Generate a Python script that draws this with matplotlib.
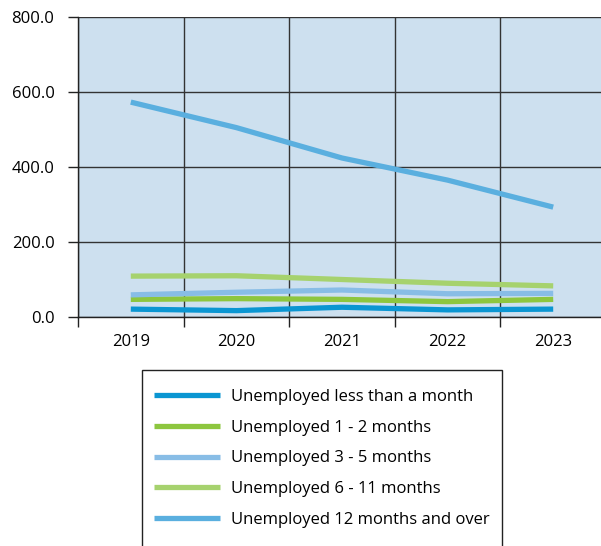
import matplotlib
matplotlib.use("Agg")
import matplotlib.pyplot as plt
import numpy as np
from matplotlib.patches import Rectangle

plt.rcParams['font.family'] = ['Open Sans', 'DejaVu Sans']

years = ['2019', '2020', '2021', '2022', '2023']
labels = ['Unemployed less than a month', 'Unemployed 1 - 2 months',
          'Unemployed 3 - 5 months', 'Unemployed 6 - 11 months',
          'Unemployed 12 months and over']
less_1 = [21, 17, 26, 19, 21]
m1_2 = [47, 49, 47, 41, 47]
m3_5 = [59, 66, 72, 62, 63]
m6_11 = [109, 110, 100, 90, 83]
m12_over = [573, 505, 424, 365, 293]
colors = ['#0a96d2', '#8dc63f', '#88bde6', '#a6d26e', '#5aafdf']

fig = plt.figure(figsize=(6.01, 5.46), dpi=100)
ax = fig.add_axes([78 / 601, 1 - 317 / 546, 528 / 601, 300 / 546])
ax.set_facecolor('#cde0ef')

x = np.arange(len(years))
series = [less_1, m1_2, m3_5, m6_11, m12_over]
lines = []
for vals, c, lab in zip(series, colors, labels):
    ln, = ax.plot(x, vals, color=c, lw=3.8, label=lab, solid_capstyle='butt')
    lines.append(ln)

ax.set_xlim(-0.5, 4.5)
ax.set_ylim(0, 800)
ax.set_yticks([0, 200, 400, 600, 800])
ax.set_yticklabels(['0.0', '200.0', '400.0', '600.0', '800.0'], fontsize=12)
ax.set_xticks(np.arange(-0.5, 5, 1))
ax.set_xticklabels([])
ax.set_xticks(x, minor=True)
ax.set_xticklabels(years, minor=True, fontsize=12)
ax.tick_params(axis='x', which='minor', length=0, pad=12)
ax.tick_params(axis='both', which='major', length=7, width=1, color='#222222')
ax.tick_params(axis='y', which='major', pad=10)
ax.grid(True, which='major', color='#333333', lw=1)
ax.set_axisbelow(True)
for s in ['top', 'right']:
    ax.spines[s].set_visible(False)
for s in ['left', 'bottom']:
    ax.spines[s].set_color('#222222')
    ax.spines[s].set_linewidth(1)

# legend box
fig.patches.append(Rectangle((142 / 601, -0.05), 360 / 601, 0.05 + 1 - 370 / 546,
                             transform=fig.transFigure, fill=False,
                             edgecolor='#222222', lw=1))
fig.legend(handles=lines, loc='upper left', bbox_to_anchor=(139 / 601, 1 - 374 / 546),
           frameon=False, fontsize=12, handlelength=3.95, handletextpad=0.66,
           labelspacing=0.88)

fig.savefig('out.png', dpi=100)
